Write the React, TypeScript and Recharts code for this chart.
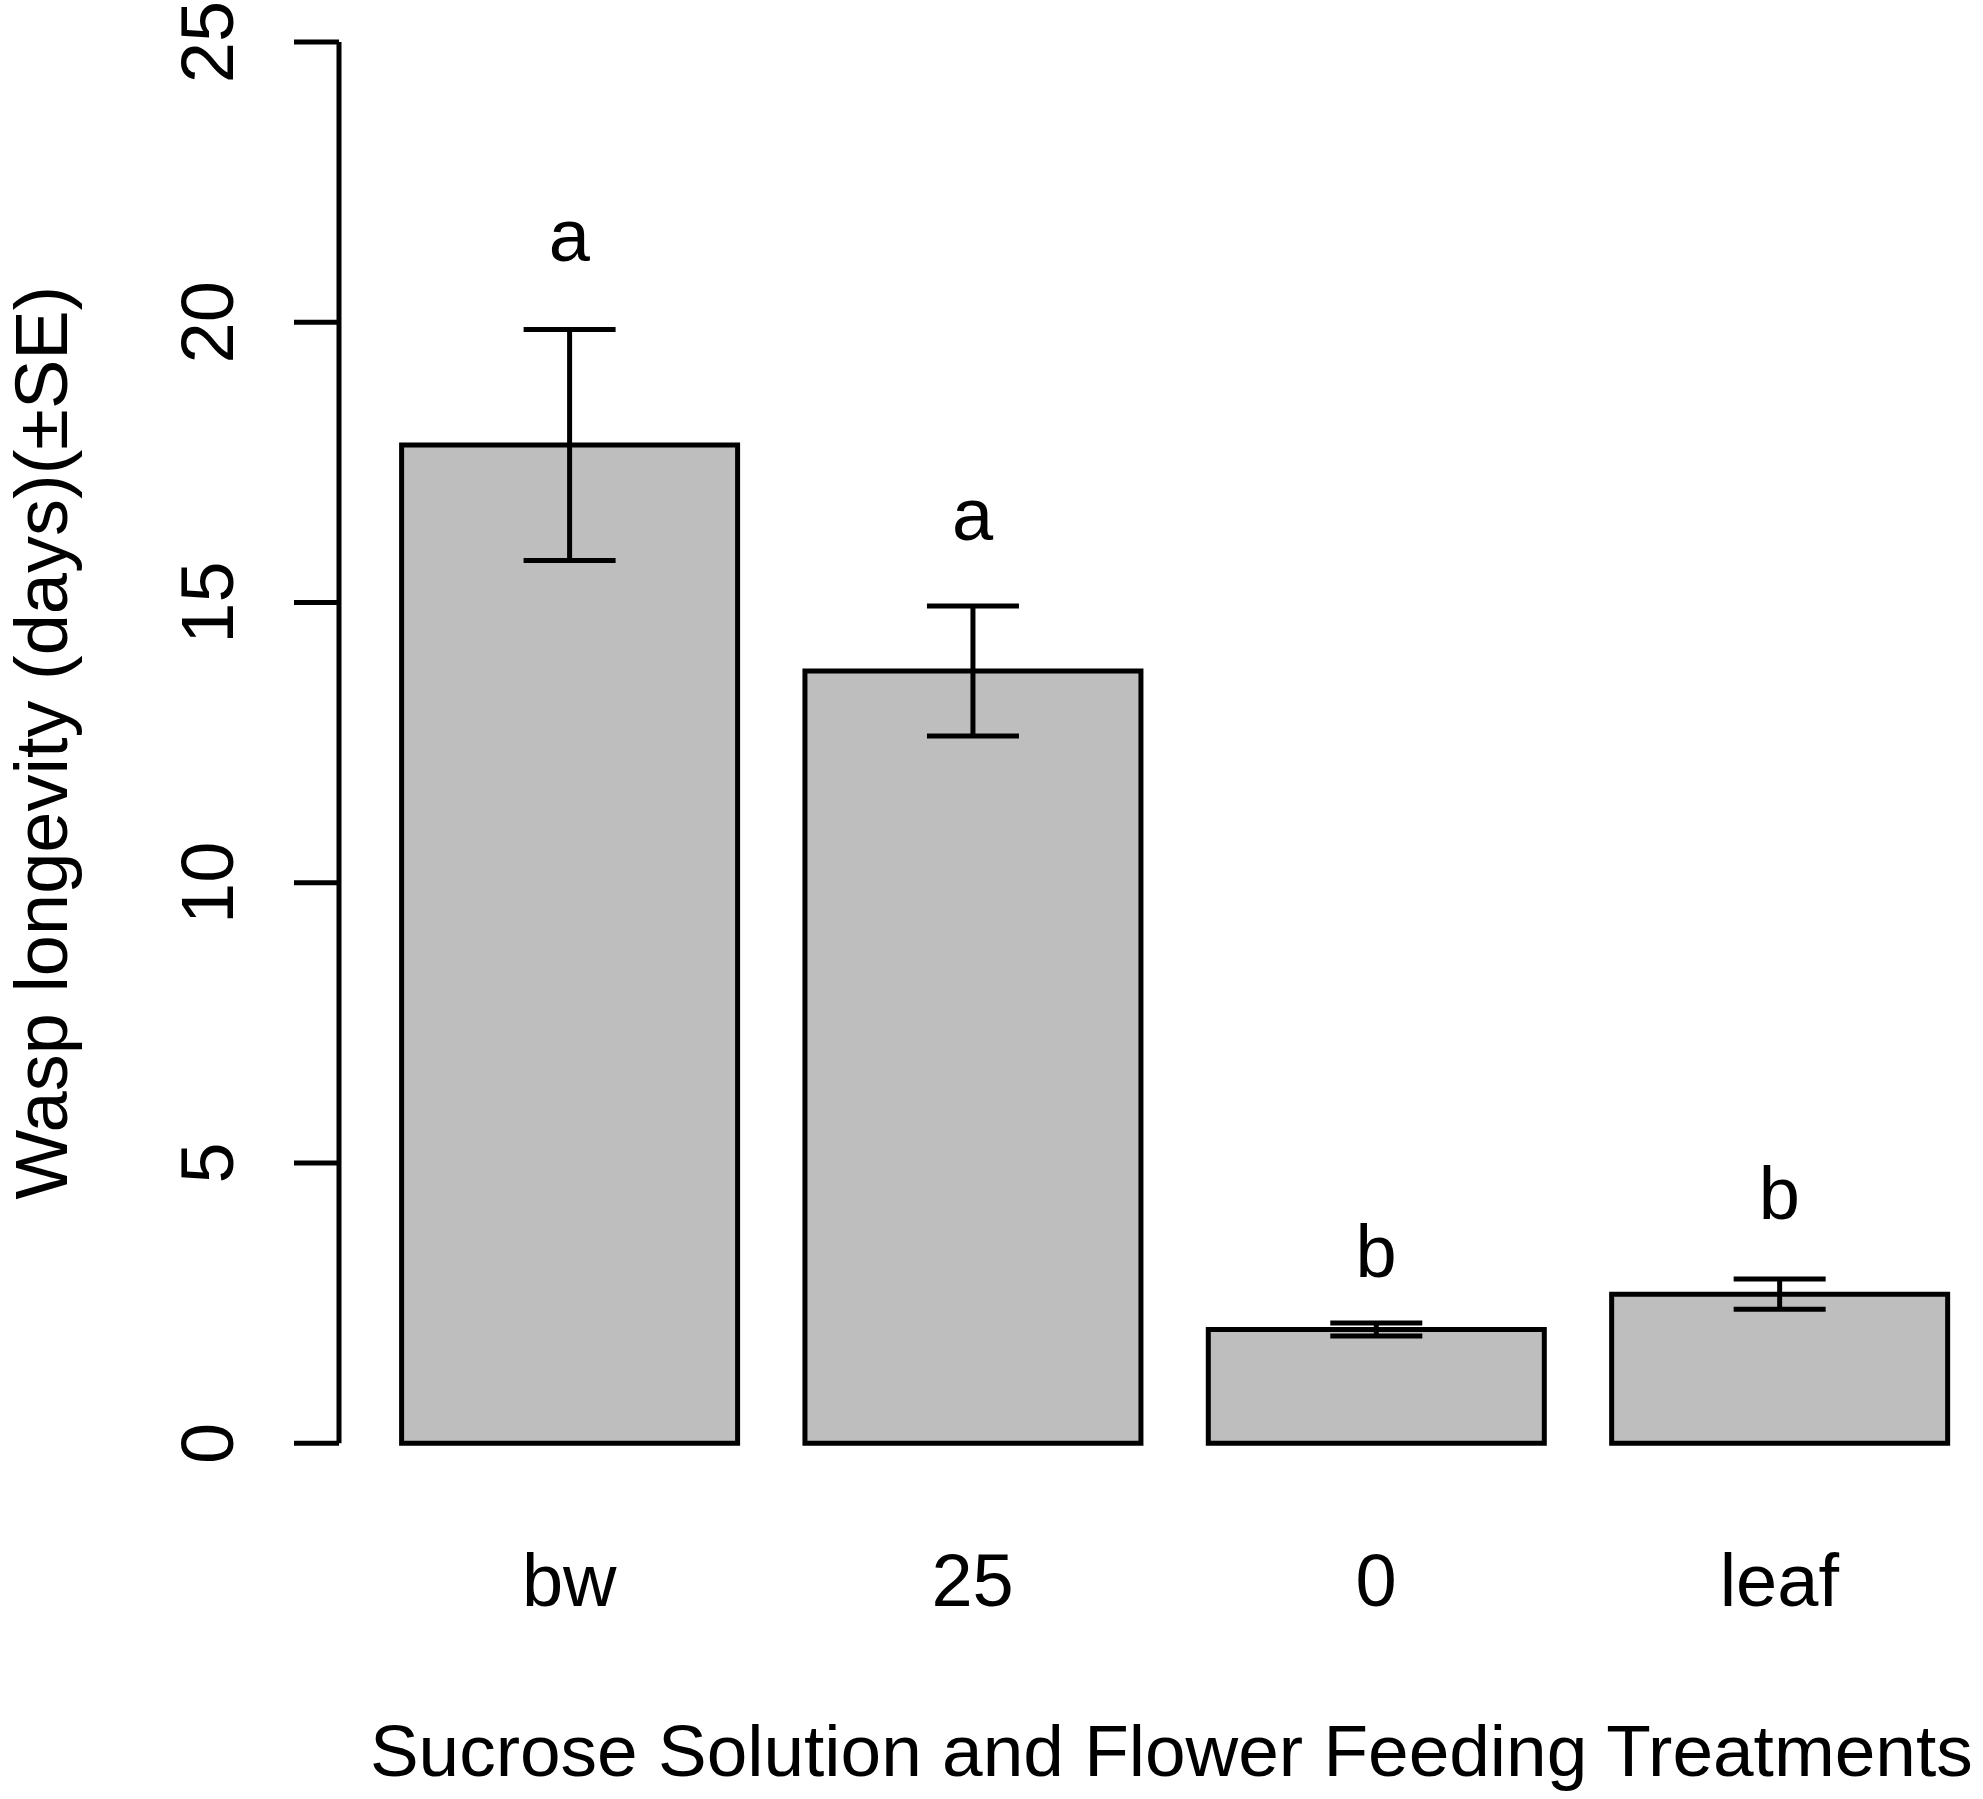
import { ComposedChart, Bar, Line, XAxis, YAxis, ErrorBar } from 'recharts';

const treatments = ['bw', '25', '0', 'leaf'];
const meanLongevity = [17.81, 13.78, 2.03, 2.66];
const seLongevity = [2.06, 1.16, 0.115, 0.27];
const groupLetters = ['a', 'a', 'b', 'b'];
const letterHeights = [21.1, 16.12, 2.97, 4.0];
const yTicks = [0, 5, 10, 15, 20, 25];

const data = treatments.map((t, i) => ({
  treatment: t,
  mean: meanLongevity[i],
  se: seLongevity[i],
  letter: groupLetters[i],
  letterY: letterHeights[i],
}));

const FONT = '"Liberation Sans", Arial, Helvetica, sans-serif';
const FS = 74;
const LW = 5;
const X_PAD_LEFT = 28.6;

function YTick(props: any) {
  const { x, y, payload } = props;
  const bx = x - 61;
  return (
    <text x={bx} y={y} transform={`rotate(-90 ${bx} ${y})`} textAnchor="middle" fontSize={FS} fontFamily={FONT} fill="#000">
      {payload.value}
    </text>
  );
}

function XTick(props: any) {
  const { x, y, payload } = props;
  return (
    <text x={x} y={y + 163} textAnchor="middle" fontSize={FS} fontFamily={FONT} fill="#000">
      {payload.value}
    </text>
  );
}

const yLabel = (props: any) => {
  const vb = props.viewBox;
  const x = vb.x + 67;
  const y = vb.y + vb.height / 2;
  return (
    <text x={x} y={y} transform={`rotate(-90 ${x} ${y})`} textAnchor="middle" fontSize={FS} fontFamily={FONT} fill="#000">
      Wasp longevity (days)(±SE)
    </text>
  );
};

const xLabel = (props: any) => {
  const vb = props.viewBox;
  const x = vb.x + X_PAD_LEFT + (vb.width - X_PAD_LEFT) / 2 - 3;
  return (
    <text x={x} y={vb.y + 333} textAnchor="middle" fontSize={73} fontFamily={FONT} fill="#000">
      Sucrose Solution and Flower Feeding Treatments
    </text>
  );
};

const letterDot = (p: any) => (
  <text key={`letter-${p.index}`} x={p.cx} y={p.cy} textAnchor="middle" fontSize={FS} fontFamily={FONT} fill="#000">
    {p.payload.letter}
  </text>
);

export default function App() {
  return (
    <div style={{ position: 'absolute', left: 0, top: 0, width: 1983, height: 1799, background: '#fff' }}>
      <ComposedChart width={1983} height={1799} data={data} margin={{ top: 42, right: 2, bottom: 0, left: 0 }}>
        <XAxis
          dataKey="treatment"
          axisLine={false}
          tickLine={false}
          tickSize={0}
          tickMargin={0}
          height={355.7}
          padding={{ left: X_PAD_LEFT, right: 0 }}
          tick={<XTick />}
          interval={0}
          label={xLabel}
        />
        <YAxis
          domain={[0, 25]}
          ticks={yTicks}
          width={339}
          axisLine={{ stroke: '#000', strokeWidth: LW }}
          tickLine={{ stroke: '#000', strokeWidth: LW }}
          tickSize={45}
          tickMargin={0}
          tick={<YTick />}
          interval={0}
          label={yLabel}
        />
        <Bar dataKey="mean" fill="#bebebe" stroke="#000" strokeWidth={LW} barSize={336} isAnimationActive={false}>
          <ErrorBar dataKey="se" width={46} stroke="#000" strokeWidth={LW} direction="y" isAnimationActive={false} />
        </Bar>
        <Line dataKey="letterY" stroke="none" dot={letterDot} activeDot={false} isAnimationActive={false} />
      </ComposedChart>
    </div>
  );
}
